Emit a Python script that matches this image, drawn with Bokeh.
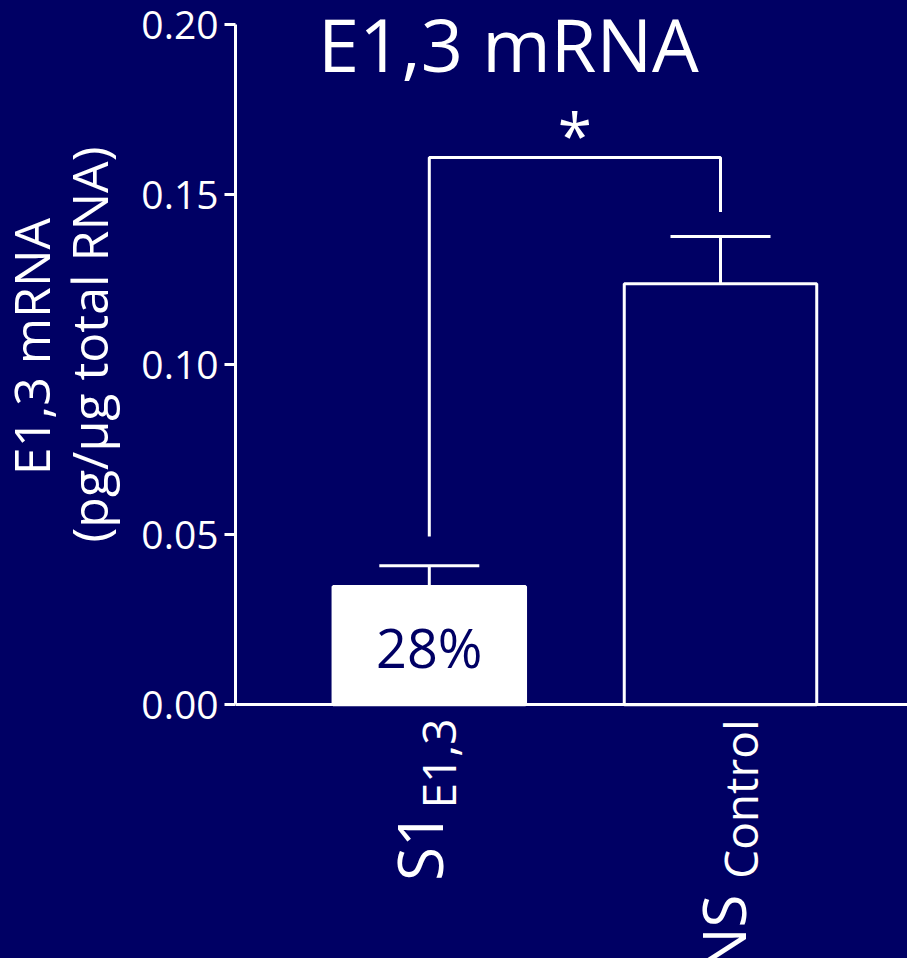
from bokeh.plotting import figure
from bokeh.layouts import row
from bokeh.models import (Range1d, FixedTicker, PrintfTickFormatter, Label,
                          Whisker, TeeHead, ColumnDataSource)
from bokeh.embed import file_html
from bokeh.resources import INLINE
import math

# ---- data ----
categories = ["S1", "NS"]
cat_main = ["S1", "NS"]
cat_sub = ["E1,3", "Control"]
means = [0.0348, 0.1238]
sems = [0.0061, 0.0139]
bar_labels = ["28%", ""]
yticks = [0.00, 0.05, 0.10, 0.15, 0.20]
bracket_low = [0.0495, 0.1449]
bracket_top = 0.1609
sig_text = "*"
title_text = "E1,3 mRNA"
ylabel_lines = ["E1,3 mRNA", "(pg/\u00b5g total RNA)"]

NAVY = "#000064"
WHITE = "#ffffff"
FONT = "Open Sans"
BL = 0.43   # Label anchor -> baseline shift (fraction of font size)

pos = list(range(len(categories)))
tops = [m + s for m, s in zip(means, sems)]

TOTAL_W, TOTAL_H = 907, 958
LW = 125                    # width of the left label strip
PX_PER_Y = 680.3 / 0.2
PX_PER_X = 291.2
AXIS_TOP = 24               # picture row of y = 0.20
AXIS_X = 235

def ydat(img_y):
    return 0.2 - (img_y - AXIS_TOP) / PX_PER_Y
def xdat(img_x):
    return (img_x - 428.8) / PX_PER_X

x_start = xdat(AXIS_X)
x_end = xdat(TOTAL_W)
y_start = ydat(TOTAL_H)
y_end = ydat(0)

# ---------------- left strip with the y axis title ----------------
L = figure(width=LW, height=TOTAL_H, output_backend="svg",
           toolbar_location=None, x_range=Range1d(0, LW),
           y_range=Range1d(0, TOTAL_H), x_axis_type=None, y_axis_type=None,
           min_border=0)
L.background_fill_color = NAVY
L.border_fill_color = NAVY
L.outline_line_color = None
L.grid.visible = False
ysize = 50
for line, bx, cy in zip(ylabel_lines, [52, 110], [346, 344]):
    L.add_layout(Label(x=bx - BL * ysize, y=TOTAL_H - cy, text=line,
                       text_font=FONT, text_font_size="%dpx" % ysize,
                       text_color=WHITE, angle=math.pi / 2,
                       text_align="center", text_baseline="alphabetic"))

# ---------------- main plot ----------------
p = figure(width=TOTAL_W - LW, height=TOTAL_H, output_backend="svg",
           toolbar_location=None, x_axis_location="above",
           x_range=Range1d(x_start, x_end), y_range=Range1d(y_start, y_end),
           min_border_left=AXIS_X - LW, min_border_top=0,
           min_border_bottom=0, min_border_right=0)
p.background_fill_color = NAVY
p.border_fill_color = NAVY
p.outline_line_color = None
p.grid.visible = False

ya = p.yaxis[0]
ya.ticker = FixedTicker(ticks=yticks)
ya.formatter = PrintfTickFormatter(format="%.2f")
ya.bounds = (yticks[0], yticks[-1])
ya.axis_line_color = WHITE
ya.axis_line_width = 3
ya.major_tick_line_color = WHITE
ya.major_tick_line_width = 3
ya.major_tick_out = 11
ya.major_tick_in = 0
ya.minor_tick_line_color = None
ya.major_label_text_color = WHITE
ya.major_label_text_font = FONT
ya.major_label_text_font_size = "39px"
ya.major_label_standoff = 6

xa = p.xaxis[0]
xa.fixed_location = 0
xa.ticker = FixedTicker(ticks=[])
xa.axis_line_color = WHITE
xa.axis_line_width = 3
xa.major_tick_line_color = None
xa.major_tick_out = 0
xa.major_tick_in = 0
xa.minor_tick_out = 0
xa.minor_tick_in = 0
xa.minor_tick_line_color = None
xa.major_label_text_font_size = "0px"
xa.major_label_standoff = 0

src = ColumnDataSource(dict(x=pos, top=means, upper=tops,
                            fill=[WHITE, NAVY]))
p.vbar(x="x", top="top", bottom=0, width=0.661, source=src,
       fill_color="fill", line_color=WHITE, line_width=3)

p.add_layout(Whisker(base="x", lower="top", upper="upper", source=src,
                     line_color=WHITE, line_width=3, lower_head=None,
                     upper_head=TeeHead(size=100, line_color=WHITE,
                                        line_width=3)))

# significance bracket and star
p.line(x=[pos[0], pos[0], pos[1], pos[1]],
       y=[bracket_low[0], bracket_top, bracket_top, bracket_low[1]],
       line_color=WHITE, line_width=3)
p.add_layout(Label(x=(pos[0] + pos[1]) / 2, y=ydat(133), text=sig_text,
                   text_font=FONT, text_font_size="62px", text_color=WHITE,
                   text_align="center", text_baseline="alphabetic"))

# percentage inside the S1 bar
p.add_layout(Label(x=pos[0], y=ydat(670 - BL * 54), text=bar_labels[0],
                   text_font=FONT, text_font_size="54px", text_color=NAVY,
                   text_align="center", text_baseline="alphabetic"))

# title
p.add_layout(Label(x=xdat(508), y=ydat(75 - BL * 74), text=title_text,
                   text_font=FONT, text_font_size="74px", text_color=WHITE,
                   text_align="center", text_baseline="alphabetic"))

# category labels with subscripts (rotated, reading upward)
sub_size = [46, 46]
main_size = [62, 60]
sub_base = [457, 759]      # baseline column in the picture
main_base = [445, 748]
sub_end = [718, 719]       # picture row where the text ends
main_end = [811, 894]
centers = [428.8, 720.0]
for i in range(len(categories)):
    p.add_layout(Label(x=pos[i],
                       x_offset=sub_base[i] - BL * sub_size[i] - centers[i],
                       y=ydat(sub_end[i]), text=cat_sub[i], text_font=FONT,
                       text_font_size="%dpx" % sub_size[i], text_color=WHITE,
                       angle=math.pi / 2, text_align="right",
                       text_baseline="alphabetic"))
    p.add_layout(Label(x=pos[i],
                       x_offset=main_base[i] - BL * main_size[i] - centers[i],
                       y=ydat(main_end[i]), text=cat_main[i], text_font=FONT,
                       text_font_size="%dpx" % main_size[i], text_color=WHITE,
                       angle=math.pi / 2, text_align="right",
                       text_baseline="alphabetic"))

layout = row(L, p, spacing=0)
html = file_html(layout, INLINE)
html = html.replace("</head>",
                    "<style>html,body{background-color:%s;}</style></head>" % NAVY, 1)
open("out.html", "w").write(html)
